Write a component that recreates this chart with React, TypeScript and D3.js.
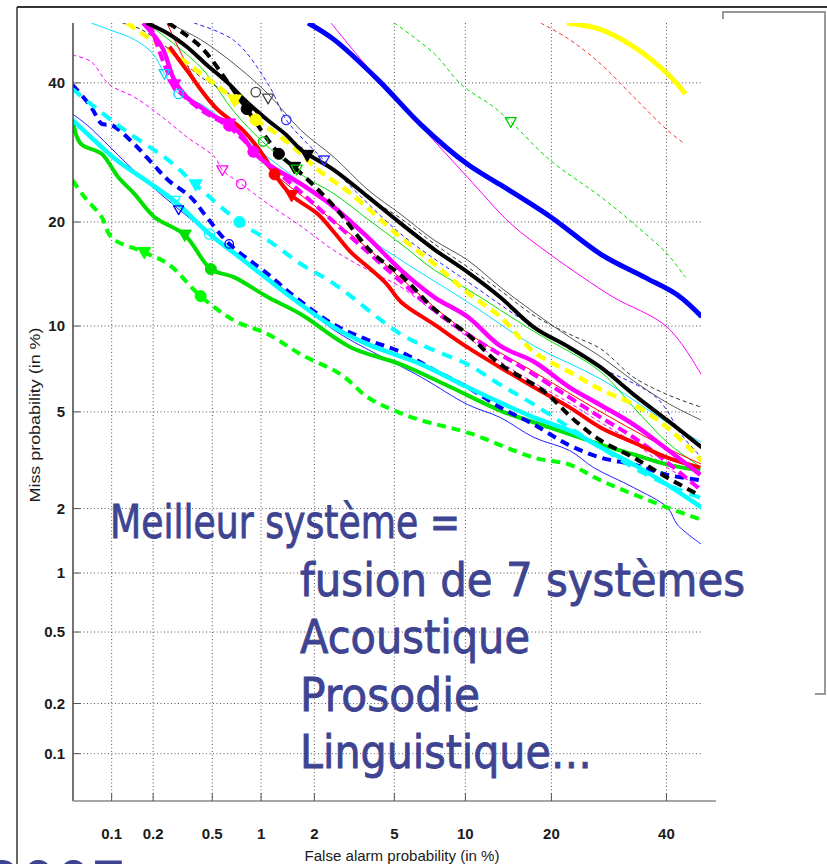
import React from 'react';
import * as d3 from 'd3';

// ---------- data (False alarm %, Miss %) ----------
const xTickValues = [0.1, 0.2, 0.5, 1, 2, 5, 10, 20, 40];
const yTickValues = [40, 20, 10, 5, 2, 1, 0.5, 0.2, 0.1];
const xTickLabels = ['0.1', '0.2', '0.5', '1', '2', '5', '10', '20', '40'];
const yTickLabels = ['40', '20', '10', '5', '2', '1', '0.5', '0.2', '0.1'];

const yellowSolidThick: [number, number][] = [[22.3, 50], [27.8, 48.9], [33.7, 46], [40.2, 41.5], [43.8, 38.2]];
const redDashThin: [number, number][] = [[18.5, 50], [22.7, 47.2], [27.8, 43.1], [33.7, 37.7], [40.2, 32.5], [43.4, 30.6]];
const greenDashThin: [number, number][] = [[5, 50], [7.5, 44.8], [9.6, 39.8], [12.8, 36.1], [14.7, 33.8], [19.8, 28.1], [27.8, 23.1], [33.7, 19.8], [40.2, 16.4], [43.8, 14.1]];
const blueSolidThick: [number, number][] = [[1.85, 50], [2.54, 47.2], [4.2, 40.5], [6.6, 33.3], [10.2, 27.5], [13.5, 24.7], [19.9, 20.6], [27.8, 16.4], [35.8, 14.1], [42.2, 12.5], [47.1, 10.7]];
const magentaSolidThinUpper: [number, number][] = [[2.45, 50], [4.2, 40.5], [6.6, 33], [10.2, 25.7], [14.7, 19.8], [19.8, 16.4], [24.8, 14.1], [30, 12.3], [40.2, 9.9], [47.1, 6.8]];
const greenDashThick: [number, number][] = [[0.05, 25.3], [0.062, 23.1], [0.084, 20.6], [0.1, 18.2], [0.173, 16.6], [0.255, 15.4], [0.42, 12.4], [0.69, 10.4], [1.1, 9.4], [1.69, 8.05], [2.76, 6.85], [3.76, 5.66], [5, 5.06], [6.6, 4.64], [10.2, 4.16], [17.6, 3.3], [22.7, 3.09], [27.8, 2.65], [40.2, 2.02], [47.1, 1.78]];
const greenSolidThick: [number, number][] = [[0.05, 34.1], [0.058, 30.5], [0.084, 29], [0.112, 25.7], [0.147, 23.5], [0.204, 20.6], [0.33, 18.5], [0.49, 14.9], [0.69, 14.1], [1.1, 12.3], [1.69, 10.9], [3.1, 8.5], [5.36, 7.44], [8.76, 6.17], [13.5, 5.06], [19.8, 4.35], [27.8, 3.73], [33.7, 3.4], [40.2, 3.09], [46.8, 2.92]];
const cyanSolidThick: [number, number][] = [[0.05, 34.1], [0.084, 30], [0.112, 27.9], [0.165, 25.7], [0.28, 22.6], [0.48, 18.6], [0.69, 16.5], [1.1, 13.9], [1.49, 12.3], [2.54, 9.9], [3.76, 8.7], [6.6, 7.44], [10.2, 6.17], [17.6, 4.76], [22.7, 4.24], [27.8, 3.63], [33.7, 3.09], [40.2, 2.54], [47.1, 2.02]];
const blueDashThick: [number, number][] = [[0.05, 39.7], [0.07, 36.1], [0.084, 33.5], [0.1, 33.3], [0.147, 30.4], [0.2, 27.5], [0.255, 25.3], [0.36, 23.1], [0.46, 20.6], [0.64, 17.5], [1.1, 14.4], [1.49, 12.6], [2.54, 10.1], [3.76, 9], [5.36, 8.2], [7.5, 7.1], [10.2, 6.17], [13.5, 5.2], [17.6, 4.47], [22.7, 3.7], [27.8, 3.3], [33.7, 3.09], [40.2, 2.8], [47.1, 2.65]];
const blueSolidThin: [number, number][] = [[0.05, 35], [0.065, 33.3], [0.165, 25.7], [0.48, 18.6], [1.49, 12.5], [2.54, 9.7], [6.6, 6.7], [10.2, 5.33], [13.5, 4.76], [17.6, 3.98], [22.7, 3.53], [26.6, 3], [33.7, 2.47], [40.2, 2.02], [42.2, 1.69], [47.1, 1.37]];
const cyanDashThick: [number, number][] = [[0.05, 39], [0.103, 33.8], [0.147, 31.5], [0.255, 28.1], [0.39, 24.7], [0.74, 20], [1.1, 17.9], [1.69, 15.4], [2.54, 13.5], [5.36, 9.4], [7.5, 8.3], [10.2, 7.44], [13.5, 6.3], [17.6, 5.33], [22.7, 4.35], [27.8, 3.63], [33.7, 3], [40.2, 2.54], [46.8, 2.23]];
const magentaDashThin: [number, number][] = [[0.05, 44.6], [0.07, 43.5], [0.095, 39.8], [0.147, 37.7], [0.23, 34.6], [0.34, 31.5], [0.52, 28.5], [0.58, 26.7], [0.76, 24.8], [1.1, 22.2], [1.69, 19.5], [2.54, 16.8], [3.76, 14.8], [5.36, 13.2], [7.5, 11.05], [10.2, 9.2], [13.5, 7.6], [17.6, 6.4], [22.7, 5.4], [27.8, 4.55], [33.7, 3.8], [40.2, 3], [47.1, 2.47]];
const redSolidThick: [number, number][] = [[0.26, 46], [0.34, 42.1], [0.52, 36.1], [0.78, 32.5], [1.05, 28.5], [1.2, 26.1], [1.5, 23.3], [2.1, 20.9], [2.54, 18.8], [3.1, 16.6], [3.76, 15.1], [4.6, 13.5], [5.36, 11.9], [7.5, 10.1], [10.2, 8.5], [13.5, 7.26], [17.6, 6.17], [22.7, 5.2], [27.8, 4.35], [33.7, 3.8], [40.2, 3.3], [46.8, 3.0]];
const redSolidThin: [number, number][] = [[0.25, 50], [0.4, 40], [0.7, 33], [1.1, 27], [2, 22], [3.76, 17], [5.36, 14], [10.2, 9.5], [17.6, 7], [27.8, 5], [40.2, 3.6], [47.1, 3.1]];
const magentaSolidThick: [number, number][] = [[0.17, 50], [0.23, 46], [0.28, 40.5], [0.34, 37.7], [0.42, 36.1], [0.52, 34.6], [0.64, 33.5], [0.78, 31.5], [0.9, 29.3], [1.1, 27.5], [1.69, 24.8], [2.54, 21.8], [3.76, 18.2], [5.36, 14.8], [7.5, 12.3], [10.2, 10.7], [13.5, 8.6], [17.6, 7.6], [22.7, 6.17], [27.8, 5.3], [33.7, 4.47], [40.2, 3.56], [46.8, 2.8]];
const magentaDashThick: [number, number][] = [[0.19, 50], [0.28, 39.7], [0.42, 35.7], [0.64, 33], [1, 28.5], [1.69, 23.7], [2.54, 20], [3.76, 16.6], [5.36, 13.7], [7.5, 11.2], [10.2, 9.4], [13.5, 8.05], [17.6, 6.85], [22.7, 5.66], [27.8, 4.76], [33.7, 3.98], [40.2, 3.15], [46.8, 2.42]];
const blackDashThick: [number, number][] = [[0.255, 50], [0.42, 46], [0.64, 39.8], [0.82, 35.8], [1.27, 29], [1.55, 27.1], [2.1, 24], [2.76, 20.9], [3.48, 17.9], [4, 16.4], [5.36, 14.3], [7.5, 11.3], [10.2, 9.4], [13.5, 7.44], [18.8, 6], [23.5, 4.64], [27.8, 3.87], [33.7, 3.3], [40.2, 2.72], [46.8, 2.28]];
const yellowDashThick: [number, number][] = [[0.13, 50], [0.18, 47.7], [0.255, 45.5], [0.37, 42.6], [0.52, 39.8], [0.69, 37.2], [0.93, 34.1], [1.2, 32.2], [1.69, 29], [2.1, 26.7], [3.1, 23.5], [5.36, 18.2], [7.5, 15.4], [10.2, 12.7], [13.5, 10.7], [17.6, 8.2], [22.7, 7], [27.8, 6.05], [33.7, 5.33], [40.2, 4.35], [47.1, 3.2]];
const blackSolidThick: [number, number][] = [[0.18, 50], [0.255, 48.2], [0.34, 46], [0.46, 43], [0.64, 39.8], [0.8, 37.2], [1.1, 34], [1.4, 31.8], [1.69, 29.6], [2.54, 26.7], [3.76, 23.1], [5.36, 19.8], [7.5, 16.9], [10.2, 14.6], [13.5, 12.3], [17.6, 9.9], [22.7, 8.5], [27.8, 7.26], [33.7, 5.8], [40.2, 4.64], [47.1, 3.63]];
const blackSolidThin: [number, number][] = [[0.255, 50], [0.42, 47.2], [0.69, 43.1], [1.1, 38.2], [1.69, 32.5], [2.54, 28.5], [3.76, 24], [5.36, 20.9], [7.5, 17.9], [10.2, 15.8], [13.5, 13.2], [17.6, 11.05], [22.7, 9.2], [27.8, 7.9], [33.7, 6.5], [40.2, 5.4], [47.1, 4.64]];
const greyDashThin: [number, number][] = [[0.12, 50], [0.165, 48.9], [0.27, 45.2], [0.42, 41], [0.69, 37.7], [1.1, 33.8], [1.69, 30], [2.54, 26.7], [3.76, 23.1], [5.36, 20.4], [7.5, 17.5], [10.2, 15.1], [13.5, 12.9], [17.6, 10.8], [22.7, 9.4], [27.8, 8.4], [33.7, 6.7], [40.2, 5.8], [47.1, 5.2]];
const blueDashThin: [number, number][] = [[0.38, 50], [0.69, 47], [1.1, 39.8], [1.4, 34.1], [1.69, 31.5], [2.25, 28.1], [3, 24.8], [5.36, 18.6], [10.2, 13.7], [17.6, 9.9], [27.8, 7.26], [38, 5.66], [43.4, 3.98], [47.1, 3.3]];
const greenSolidThin: [number, number][] = [[0.18, 50], [0.42, 42.6], [0.69, 35.3], [1, 31], [1.69, 26.1], [2.54, 23.5], [3.76, 20.3], [5.36, 17.5], [7.5, 14.8], [10.2, 13], [17.6, 9.6], [27.8, 7], [33.7, 5.2], [40.2, 3.8], [47.1, 3]];
const cyanSolidThin: [number, number][] = [[0.07, 50], [0.095, 48.9], [0.147, 47.2], [0.2, 44.8], [0.24, 41.5], [0.3, 38.2], [0.42, 36.6], [0.55, 34.6], [0.69, 32.5], [1.1, 28.5], [1.69, 25], [2.54, 21.8], [3.76, 18.2], [5.36, 15.8], [10.2, 11.9], [17.6, 8.6], [27.8, 6.6], [40.2, 4.55], [47.1, 3.8]];

// markers: first point = triangle, second point = circle
const greenDashThickMarks: [number, number][] = [[0.173, 16.6], [0.42, 12.4]];
const greenSolidThickMarks: [number, number][] = [[0.33, 18.5], [0.49, 14.9]];
const cyanSolidThickMarks: [number, number][] = [[0.28, 22.6], [0.48, 18.6]];
const cyanDashThickMarks: [number, number][] = [[0.39, 24.7], [0.74, 20]];
const blueDashThickMarks: [number, number][] = [[0.3, 21.5], [0.64, 17.5]];
const magentaDashThinMarks: [number, number][] = [[0.58, 26.7], [0.76, 24.8]];
const magentaDashThickMarks: [number, number][] = [[0.28, 39.7], [0.64, 33.2]];
const magentaSolidThickMarks: [number, number][] = [[0.64, 33.5], [0.9, 29.3]];
const redSolidThickMarks: [number, number][] = [[1.5, 23.3], [1.2, 26.1]];
const yellowDashThickMarks: [number, number][] = [[0.69, 37.2], [0.93, 34.1]];
const blackDashThickMarks: [number, number][] = [[1.55, 27.1], [0.82, 35.8]];
const blackSolidThickMarks: [number, number][] = [[1.83, 28.8], [1.27, 29]];
const blackSolidThinMarks: [number, number][] = [[1.1, 37.5], [0.93, 38.5]];
const blueDashThinMarks: [number, number][] = [[2.25, 28.1], [1.4, 34.1]];
const cyanSolidThinMarks: [number, number][] = [[0.24, 41.5], [0.3, 38.2]];
const greenDashThinMarks: [number, number][] = [[14.7, 33.8]];
const greenSolidThinMarks: [number, number][] = [[1.6, 26.8], [1.03, 30.8]];

const slideLines = ['Meilleur système =', 'fusion de 7 systèmes', 'Acoustique', 'Prosodie', 'Linguistique…'];

// ---------- helpers ----------
function probit(p: number): number {
  const a = [-3.969683028665376e+01, 2.209460984245205e+02, -2.759285104469687e+02, 1.383577518672690e+02, -3.066479806614716e+01, 2.506628277459239e+00];
  const b = [-5.447609879822406e+01, 1.615858368580409e+02, -1.556989798598866e+02, 6.680131188771972e+01, -1.328068155288572e+01];
  const c = [-7.784894002430293e-03, -3.223964580411365e-01, -2.400758277161838e+00, -2.549732539343734e+00, 4.374664141464968e+00, 2.938163982698783e+00];
  const d = [7.784695709041462e-03, 3.224671290700398e-01, 2.445134137142996e+00, 3.754408661907416e+00];
  const plow = 0.02425;
  if (p < plow) {
    const q = Math.sqrt(-2 * Math.log(p));
    return (((((c[0] * q + c[1]) * q + c[2]) * q + c[3]) * q + c[4]) * q + c[5]) / ((((d[0] * q + d[1]) * q + d[2]) * q + d[3]) * q + 1);
  } else if (p <= 1 - plow) {
    const q = p - 0.5;
    const r = q * q;
    return (((((a[0] * r + a[1]) * r + a[2]) * r + a[3]) * r + a[4]) * r + a[5]) * q / (((((b[0] * r + b[1]) * r + b[2]) * r + b[3]) * r + b[4]) * r + 1);
  }
  const q = Math.sqrt(-2 * Math.log(1 - p));
  return -(((((c[0] * q + c[1]) * q + c[2]) * q + c[3]) * q + c[4]) * q + c[5]) / ((((d[0] * q + d[1]) * q + d[2]) * q + d[3]) * q + 1);
}

type Style = { data: [number, number][]; color: string; w: number; dash?: string };
type MarkStyle = { pts: [number, number][]; color: string; filled: boolean; r: number };

export default function App() {
  const xl = d3.scaleLinear().domain([probit(0.0005), probit(0.5)]).range([72.5, 716]);
  const yl = d3.scaleLinear().domain([probit(0.0005), probit(0.5)]).range([801, 23]);
  const fx = (v: number) => xl(probit(v / 100));
  const fy = (v: number) => yl(probit(v / 100));
  const line = d3.line<[number, number]>().x(d => fx(d[0])).y(d => fy(d[1])).curve(d3.curveCatmullRom.alpha(0.5));

  const plotLeft = 73, plotRight = 701, plotTop = 23, plotBottom = 801;

  const thin: Style[] = [
    { data: redDashThin, color: '#ff3030', w: 1, dash: '4,3' },
    { data: greenDashThin, color: '#00e000', w: 1, dash: '4,3' },
    { data: magentaSolidThinUpper, color: '#ff00ff', w: 1 },
    { data: blueSolidThin, color: '#2020ff', w: 1 },
    { data: magentaDashThin, color: '#ff00ff', w: 1, dash: '4,3' },
    { data: cyanSolidThin, color: '#00e0ff', w: 1 },
    { data: greenSolidThin, color: '#00e000', w: 1 },
    { data: redSolidThin, color: '#ff0000', w: 1 },
    { data: blueDashThin, color: '#2020ff', w: 1, dash: '4,3' },
    { data: greyDashThin, color: '#333333', w: 1, dash: '4,3' },
    { data: blackSolidThin, color: '#555555', w: 1 },
  ];
  const thick: Style[] = [
    { data: greenDashThick, color: '#00ff00', w: 4, dash: '9,6' },
    { data: greenSolidThick, color: '#00e000', w: 4 },
    { data: blueDashThick, color: '#0000ff', w: 4, dash: '9,6' },
    { data: cyanSolidThick, color: '#00ffff', w: 4.5 },
    { data: cyanDashThick, color: '#00ffff', w: 4, dash: '11,8' },
    { data: yellowDashThick, color: '#ffff00', w: 4.5, dash: '10,6' },
    { data: magentaDashThick, color: '#ff00ff', w: 4, dash: '10,5' },
    { data: redSolidThick, color: '#ff0000', w: 4 },
    { data: magentaSolidThick, color: '#ff00ff', w: 4.5 },
    { data: blackDashThick, color: '#000000', w: 4, dash: '9,6' },
    { data: blackSolidThick, color: '#000000', w: 4 },
    { data: blueSolidThick, color: '#0000ff', w: 5 },
    { data: yellowSolidThick, color: '#ffff00', w: 5 },
  ];
  const marks: MarkStyle[] = [
    { pts: greenDashThickMarks, color: '#00ff00', filled: true, r: 6.5 },
    { pts: greenSolidThickMarks, color: '#00e000', filled: true, r: 6.5 },
    { pts: cyanSolidThickMarks, color: '#00ffff', filled: false, r: 6 },
    { pts: cyanDashThickMarks, color: '#00ffff', filled: true, r: 6.5 },
    { pts: blueDashThickMarks, color: '#0000ff', filled: false, r: 5 },
    { pts: magentaDashThinMarks, color: '#ff00ff', filled: false, r: 5.5 },
    { pts: magentaDashThickMarks, color: '#ff00ff', filled: true, r: 6.5 },
    { pts: magentaSolidThickMarks, color: '#ff00ff', filled: true, r: 6.5 },
    { pts: redSolidThickMarks, color: '#ff0000', filled: true, r: 6.5 },
    { pts: yellowDashThickMarks, color: '#ffff00', filled: true, r: 7 },
    { pts: blackDashThickMarks, color: '#000000', filled: true, r: 6.5 },
    { pts: blackSolidThickMarks, color: '#000000', filled: true, r: 6.5 },
    { pts: blackSolidThinMarks, color: '#444444', filled: false, r: 5.5 },
    { pts: blueDashThinMarks, color: '#3030ff', filled: false, r: 5.5 },
    { pts: cyanSolidThinMarks, color: '#00d0ff', filled: false, r: 5.5 },
    { pts: greenDashThinMarks, color: '#00d000', filled: false, r: 5.5 },
    { pts: greenSolidThinMarks, color: '#00d000', filled: false, r: 5.5 },
  ];

  const tri = (cx: number, cy: number, r: number) =>
    `M${cx - r},${cy - r * 0.75}L${cx + r},${cy - r * 0.75}L${cx},${cy + r}Z`;

  const slideBaselines = [538, 596, 653, 711, 768];
  const slideX = [110, 300, 300, 300, 300];
  const slideWidths = [350, 445, 230, 180, 292];

  return (
    <svg width={827} height={864} style={{ position: 'absolute', left: 0, top: 0, display: 'block', background: '#fff' }}>
      <defs>
        <clipPath id="plotclip">
          <rect x={plotLeft} y={plotTop} width={plotRight - plotLeft} height={plotBottom - plotTop} />
        </clipPath>
      </defs>
      <rect x={0} y={0} width={827} height={864} fill="#fff" />

      {/* outer slide frame */}
      <line x1={17} y1={7} x2={827} y2={7} stroke="#333" strokeWidth={2} />
      <line x1={17} y1={7} x2={17} y2={864} stroke="#333" strokeWidth={1.5} />
      {/* empty legend bracket */}
      <path d="M723,19 L723,12 L825,12 L825,694 L815,694" fill="none" stroke="#999" strokeWidth={2} />

      {/* grid */}
      <g stroke="#555" strokeWidth={1} strokeDasharray="1,2.5">
        {xTickValues.map(v => (
          <line key={'gx' + v} x1={fx(v)} x2={fx(v)} y1={plotTop} y2={plotBottom} />
        ))}
        {yTickValues.map(v => (
          <line key={'gy' + v} x1={plotLeft} x2={plotRight} y1={fy(v)} y2={fy(v)} />
        ))}
      </g>

      {/* curves */}
      <g clipPath="url(#plotclip)" fill="none" strokeLinejoin="round">
        {thin.map((s, i) => (
          <path key={'t' + i} d={line(s.data) || ''} stroke={s.color} strokeWidth={s.w} strokeDasharray={s.dash} />
        ))}
        {thick.map((s, i) => (
          <path key={'k' + i} d={line(s.data) || ''} stroke={s.color} strokeWidth={s.w} strokeDasharray={s.dash} />
        ))}
        {marks.map((m, i) =>
          m.pts.map((p, j) => {
            const cx = fx(p[0]), cy = fy(p[1]);
            const fill = m.filled ? m.color : 'none';
            const sw = m.filled ? 1 : 1.3;
            return j === 0 ? (
              <path key={'m' + i + '-' + j} d={tri(cx, cy, m.r)} fill={fill} stroke={m.color} strokeWidth={sw} />
            ) : (
              <circle key={'m' + i + '-' + j} cx={cx} cy={cy} r={m.r * 0.85} fill={fill} stroke={m.color} strokeWidth={sw} />
            );
          })
        )}
      </g>

      {/* axes */}
      <line x1={plotLeft} y1={plotTop} x2={plotLeft} y2={plotBottom} stroke="#444" strokeWidth={1.5} />
      <line x1={plotLeft} y1={plotBottom} x2={716} y2={plotBottom} stroke="#888" strokeWidth={1.5} />
      {xTickValues.map(v => (
        <line key={'xt' + v} x1={fx(v)} x2={fx(v)} y1={plotBottom} y2={plotBottom - 8} stroke="#555" strokeWidth={1} />
      ))}
      {yTickValues.map(v => (
        <line key={'yt' + v} x1={plotLeft} x2={plotLeft + 7} y1={fy(v)} y2={fy(v)} stroke="#555" strokeWidth={1} />
      ))}

      {/* tick labels */}
      <g fontFamily="'Liberation Sans Narrow', 'Arial Narrow', 'Liberation Sans', Arial, sans-serif" fill="#1a1a1a" fontSize={15}>
        {xTickValues.map((v, i) => (
          <text key={'xl' + v} x={fx(v)} y={839} textAnchor="middle" fontWeight="bold">{xTickLabels[i]}</text>
        ))}
        {yTickValues.map((v, i) => (
          <text key={'yl' + v} x={65} y={fy(v) + 5} textAnchor="end" fontWeight="bold">{yTickLabels[i]}</text>
        ))}
        <text x={402} y={861} textAnchor="middle" fontSize={15} textLength={195} lengthAdjust="spacingAndGlyphs">False alarm probability (in %)</text>
        <text transform="translate(40,415) rotate(-90)" textAnchor="middle" fontSize={15} textLength={175} lengthAdjust="spacingAndGlyphs">Miss probability (in %)</text>
      </g>

      {/* slide text */}
      <g fontFamily="'DejaVu Sans', Verdana, sans-serif" fill="#3e4491" stroke="#3e4491" strokeWidth={0.9} fontSize={46}>
        {slideLines.map((t, i) => (
          <text key={'s' + i} x={slideX[i]} y={slideBaselines[i]} textLength={slideWidths[i]} lengthAdjust="spacingAndGlyphs">{t}</text>
        ))}
        <text x={-14} y={901} fontSize={55}>2007</text>
      </g>
    </svg>
  );
}
